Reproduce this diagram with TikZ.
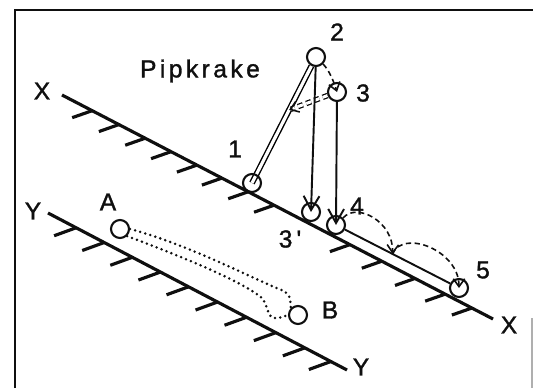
\documentclass[tikz,border=0pt]{standalone}
\usepackage{fontspec}
\setmainfont{Liberation Sans}
\newfontfamily\labelfont{Liberation Sans}[FakeBold=1.3]
\usetikzlibrary{arrows.meta,calc,backgrounds}
\definecolor{ink}{RGB}{15,15,15}
\definecolor{scan}{RGB}{175,175,175}
\tikzset{
  every picture/.style={color=ink, line width=1pt},
  frame/.style={line width=1.3pt},
  ground/.style={line width=1.8pt},
  hatch/.style={line width=1.8pt},
  spot/.style={draw=ink, circle, minimum size=0.36cm, inner sep=0pt, line width=1.2pt},
  lbl/.style={font=\labelfont\fontsize{14}{14}\selectfont, inner sep=0pt},
  lift/.style={double, double distance=1.8pt, line width=0.8pt},
  fall/.style={-{Straight Barb[length=8pt,width=9pt,line width=1.1pt]}, line width=1.1pt},
  hop/.style={-{Straight Barb[length=4.5pt,width=6.5pt,line width=0.9pt]}, line width=0.9pt, dash pattern=on 3pt off 2pt},
  back/.style={double, double distance=1.7pt, line width=0.7pt, dash pattern=on 3pt off 2pt},
  tip/.style={-{Straight Barb[length=4.5pt,width=6.5pt,line width=0.9pt]}, line width=0.9pt},
  track/.style={line width=1.1pt},
  trail/.style={line width=1.6pt, line cap=round, dash pattern=on 0pt off 3pt},
}

\begin{document}
\begin{tikzpicture}[x=0.02cm, y=-0.02cm]
  \useasboundingbox (0,0) rectangle (533,388);
  % frame of the figure
  \draw[frame] (15,388) -- (15,10) -- (533,10);
  \draw[scan, line width=0.8pt] (532,318) -- (532,388);
  % the two slopes, hatched on the down side
  \coordinate (xa) at (62,95);
  \coordinate (xb) at (493,319);
  \coordinate (ya) at (48,213);
  \coordinate (yb) at (347,370);
  \draw[ground] (xa) -- (xb);
  \draw[ground] (ya) -- (yb);
  \foreach \t in {0.070,0.132,0.193,0.253,0.313,0.371,0.432,0.492,0.668,0.742,0.819,0.889,0.951}
    \draw[hatch] ($(xa)!\t!(xb)$) -- +(-20,7);
  \foreach \t in {0.094,0.188,0.282,0.376,0.470,0.567,0.664,0.762,0.859,0.946}
    \draw[hatch] ($(ya)!\t!(yb)$) -- +(-22,8);
  % positions of the stone
  \node[spot] (n1) at (252,183) {};
  \node[spot] (n2) at (316,57) {};
  \node[spot] (n3) at (337,92) {};
  \node[spot] (n3p) at (311,212) {};
  \node[spot] (n4) at (336,225) {};
  \node[spot] (n5) at (459,288) {};
  \node[spot] (nA) at (120,229) {};
  \node[spot] (nB) at (298,315) {};
  % labels
  \node[lbl] (lXa) at (42,91) {X};
  \node[lbl] (lXb) at (509,325) {X};
  \node[lbl] (lYa) at (33,211) {Y};
  \node[lbl] (lYb) at (361,367) {Y};
  \node[lbl, font=\labelfont\fontsize{14}{14}\selectfont\addfontfeature{LetterSpace=14}] (title) at (200,71) {Pipkrake};
  \node[lbl] (l1) at (235,149) {1};
  \node[lbl] (l2) at (337,32) {2};
  \node[lbl] (l3) at (363,93) {3};
  \node[lbl] (l3p) at (290,239) {3\,'};
  \node[lbl] (l4) at (357,206) {4};
  \node[lbl] (l5) at (483,270) {5};
  \node[lbl] (lA) at (108,202) {A};
  \node[lbl] (lB) at (330,310) {B};
  % heave, fall and creep
  \coordinate (k) at ($(n1)!0.58!(n2)$);
  \coordinate (m) at ($(n4)!0.46!(n5)$);
  \begin{scope}[on background layer]
    \draw[lift] (n1.center) -- (n2);
    \draw[back, shorten >=1pt] (n3) -- (k);
  \end{scope}
  \draw[tip] ($(k)!2pt!(n3)$) -- (k);
  \draw[fall] (n2) -- (n3p.center);
  \draw[fall] (n3) -- (n4.center);
  \draw[hop] (n2.-45) .. controls +(6,6) and +(-3,-10) .. (n3.center);
  \draw[track] (n4) -- (n5);
  \draw[hop] (n4.north east) .. controls +(14,-16) and +(1,-32) .. (m);
  \draw[hop] (m) .. controls +(10,-25) and +(0,-38) .. (n5.center);
  % slow path on the other slope
  \draw[trail] (nA.east) .. controls (190,245) and (255,280) .. (284,291) .. controls (290,296) .. (nB.north west);
  \draw[trail] (nA.south east) .. controls (180,256) and (240,280) .. (262,298) .. controls (272,312) and (264,324) .. (nB.west);
\end{tikzpicture}
\end{document}
